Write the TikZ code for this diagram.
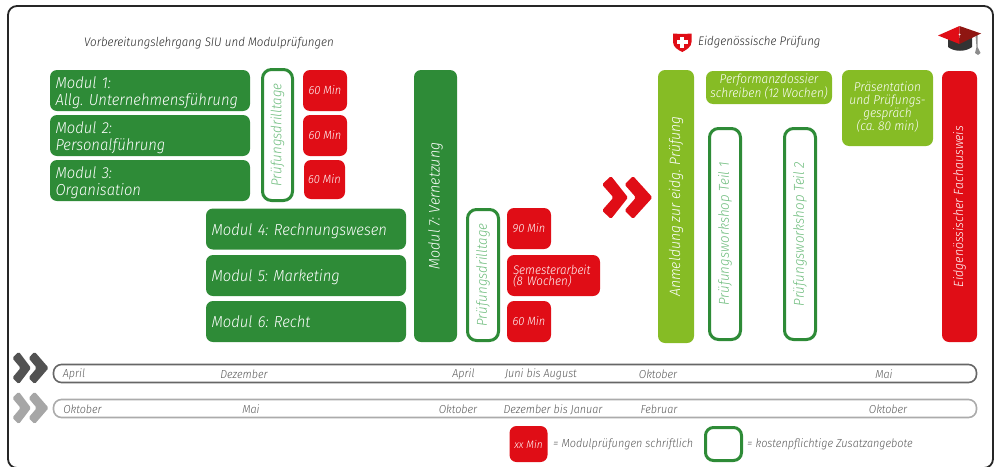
\documentclass[tikz,border=0pt]{standalone}
\usepackage{fontspec}
\setmainfont{Fira Sans}[UprightFont=* Light,ItalicFont=* Light Italic,FakeStretch=0.93]
\definecolor{dgreen}{HTML}{2E8B37}
\definecolor{lgreen}{HTML}{86BC25}
\definecolor{sred}{HTML}{E00D16}
\definecolor{tgreen}{HTML}{6FBD7E}
\definecolor{darkred}{HTML}{8F1612}
\tikzset{
  textpos/.style n args={3}{execute at begin node={\baselineskip=#3pt\relax\rule{0pt}{#1pt}},execute at end node={\rule[-#2pt]{0pt}{1pt}}},
  solidbox/.style={rounded corners=7pt,inner sep=0pt,text=white,font=\itshape\fontsize{15.9}{17}\selectfont},
  modbox/.style={solidbox,fill=dgreen,minimum width=200pt,text width=189pt,align=left,textpos={16.5}{4.5}{17}},
  greenbar/.style={solidbox,fill=dgreen,rotate=90,align=center},
  lightbox/.style={solidbox,fill=lgreen,align=center,font=\itshape\fontsize{12.8}{13.3}\selectfont,textpos={14}{3.7}{13.3}},
  redbox/.style={solidbox,fill=sred,align=center,font=\itshape\fontsize{11.9}{13}\selectfont},
  outline/.style={rounded corners=9pt,draw=dgreen,line width=3pt,fill=white,inner sep=0pt,text=tgreen,rotate=90,font=\itshape\fontsize{14.3}{17}\selectfont},
  timeline/.style={rounded corners=8pt,line width=1.6pt,fill=white,inner sep=0pt,minimum width=923pt,minimum height=18pt},
  month/.style={inner sep=0pt,text=black!65,font=\itshape\fontsize{11.6}{13}\selectfont},
  head/.style={inner sep=0pt,text=black!85,font=\itshape\fontsize{12.4}{13}\selectfont},
  legend/.style={inner sep=0pt,text=black!65,font=\itshape\fontsize{11.7}{13}\selectfont},
  chevpair/.pic={
    \fill[pic actions,rounded corners=1.6pt] (0,8.5) -- (9,0) -- (26,21.5) -- (9,43) -- (0,34.5) -- (11.5,21.5) -- cycle;
    \fill[pic actions,rounded corners=1.6pt] (22.5,8.5) -- (31,0) -- (50.5,21.5) -- (31,43) -- (22.5,34.5) -- (34,21.5) -- cycle;
  }
}
\begin{document}
\frenchspacing
\lineskiplimit=-6pt
\begin{tikzpicture}[x=1pt,y=-1pt]
\useasboundingbox (0,0) rectangle (995,466);
\draw[line width=1.8pt,black!85,rounded corners=9pt] (8,6) rectangle (993,468);

\node[head,anchor=west] (h1) at (84,43) {Vorbereitungslehrgang SIU und Modulprüfungen};
\node[head,anchor=west] (h2) at (698,42) {Eidgenössische Prüfung};

% swiss shield
\fill[sred] (673,33.5) .. controls (679,34) and (686,34) .. (691.5,33.5) -- (691.5,42) .. controls (691.5,47) and (686,50) .. (682.3,52) .. controls (678,50) and (673,47) .. (673,42) -- cycle;
\fill[white] (680.3,36.5) rectangle (684.3,47.5);
\fill[white] (676.8,40) rectangle (687.8,44);

% graduation cap
\fill[black!80] (948,38) -- (972,38) -- (972,47) .. controls (966,52) and (954,52) .. (948,47) -- cycle;
\fill[black!45] (975.5,35) -- (977.5,34) -- (977.5,47) -- (980.5,53) -- (978,55) -- (975,53) -- (976.5,47) -- cycle;
\fill[sred] (938,35.5) -- (959.5,26) -- (959.5,44) -- cycle;
\fill[darkred] (959.5,26) -- (981,33.5) -- (959.5,44) -- cycle;
\fill[white] (959.5,34.5) circle (1pt);

% modules
\node[modbox,minimum height=41pt] (m1) at (150,90.5) {Modul 1:\\\mbox{Allg. Unternehmensführung}};
\node[modbox,minimum height=41pt] (m2) at (150,135.5) {Modul 2:\\Personalführung};
\node[modbox,minimum height=41pt] (m3) at (150,180.5) {Modul 3:\\Organisation};
\node[modbox,minimum height=41pt] (m4) at (306,229) {Modul 4: Rechnungswesen};
\node[modbox,minimum height=41pt] (m5) at (306,275.5) {Modul 5: Marketing};
\node[modbox,minimum height=41pt] (m6) at (306,321.5) {Modul 6: Recht};
\node[greenbar,minimum width=272pt,minimum height=43pt,font=\itshape\fontsize{15.3}{17}\selectfont] (m7) at (435.5,206) {Modul 7: Vernetzung};

\node[outline,minimum width=131pt,minimum height=30pt] (d1) at (277.5,135) {Prüfungsdrilltage};
\node[outline,minimum width=131pt,minimum height=31pt] (d2) at (483,275) {Prüfungsdrilltage};

\node[redbox,minimum width=44pt,minimum height=41pt] (r1) at (325,90.5) {60 Min};
\node[redbox,minimum width=44pt,minimum height=41pt] (r2) at (325,135.5) {60 Min};
\node[redbox,minimum width=41pt,minimum height=39pt] (r3) at (324.5,179.5) {60 Min};
\node[redbox,minimum width=44pt,minimum height=41pt] (r4) at (529,228.5) {90 Min};
\node[solidbox,fill=sred,minimum width=93pt,text width=81pt,minimum height=41pt,align=left,font=\itshape\fontsize{12.5}{9.6}\selectfont,textpos={12.5}{3.5}{9.4}] (r5) at (553.5,275.5) {Semesterarbeit\\(8 Wochen)};
\node[redbox,minimum width=44pt,minimum height=41pt] (r6) at (529,321.5) {60 Min};

\path[fill=sred] (602,176) pic {chevpair};

\node[greenbar,fill=lgreen,minimum width=273pt,minimum height=36pt,font=\itshape\fontsize{15}{17}\selectfont] (an) at (676,206.5) {Anmeldung zur eidg. Prüfung};
\node[lightbox,minimum width=126pt,minimum height=33pt] (pf) at (769,87.5) {Performanzdossier\\schreiben (12 Wochen)};
\node[lightbox,minimum width=91pt,minimum height=76pt] (pr) at (887.5,108) {Präsentation\\und Prüfungs-\\gespräch\\(ca. 80 min)};
\node[greenbar,fill=sred,minimum width=271pt,minimum height=35pt,font=\itshape\fontsize{13.3}{17}\selectfont] (fa) at (959.5,206.5) {Eidgenössischer Fachausweis};

\node[outline,minimum width=211pt,minimum height=31pt] (w1) at (725,234) {Prüfungsworkshop Teil 1};
\node[outline,minimum width=211pt,minimum height=31pt] (w2) at (800,234) {Prüfungsworkshop Teil 2};

% timelines
\node[timeline,draw=black!60] (t1) at (515,373.5) {};
\node[timeline,draw=black!33] (t2) at (515,408.5) {};
\path[fill=black!68] (12.3,351.7) pic[xscale=0.72,yscale=0.755] {chevpair};
\path[fill=black!35] (12.3,391.7) pic[xscale=0.72,yscale=0.755] {chevpair};

\foreach \n/\x/\t in {a/74/April,b/244/Dezember,c/463.5/April,d/541/Juni bis August,e/658/Oktober,f/884/Mai}
  \node[month] (u\n) at (\x,374.5) {\t};
\foreach \n/\x/\t in {a/82.5/Oktober,b/251/Mai,c/458/Oktober,d/553/Dezember bis Januar,e/659/Februar,f/888/Oktober}
  \node[month] (v\n) at (\x,409.5) {\t};

% legend
\node[solidbox,fill=sred,minimum width=38pt,minimum height=36pt,font=\itshape\fontsize{10.8}{12}\selectfont] (lr) at (528.5,444) {xx Min};
\node[legend,anchor=west] (lt1) at (553,444) {= Modulprüfungen schriftlich};
\node[draw=dgreen,line width=3pt,rounded corners=8pt,inner sep=0pt,minimum width=36pt,minimum height=33pt] (lg) at (723.5,444) {};
\node[legend,anchor=west] (lt2) at (747,444) {= kostenpflichtige Zusatzangebote};
\end{tikzpicture}
\end{document}
